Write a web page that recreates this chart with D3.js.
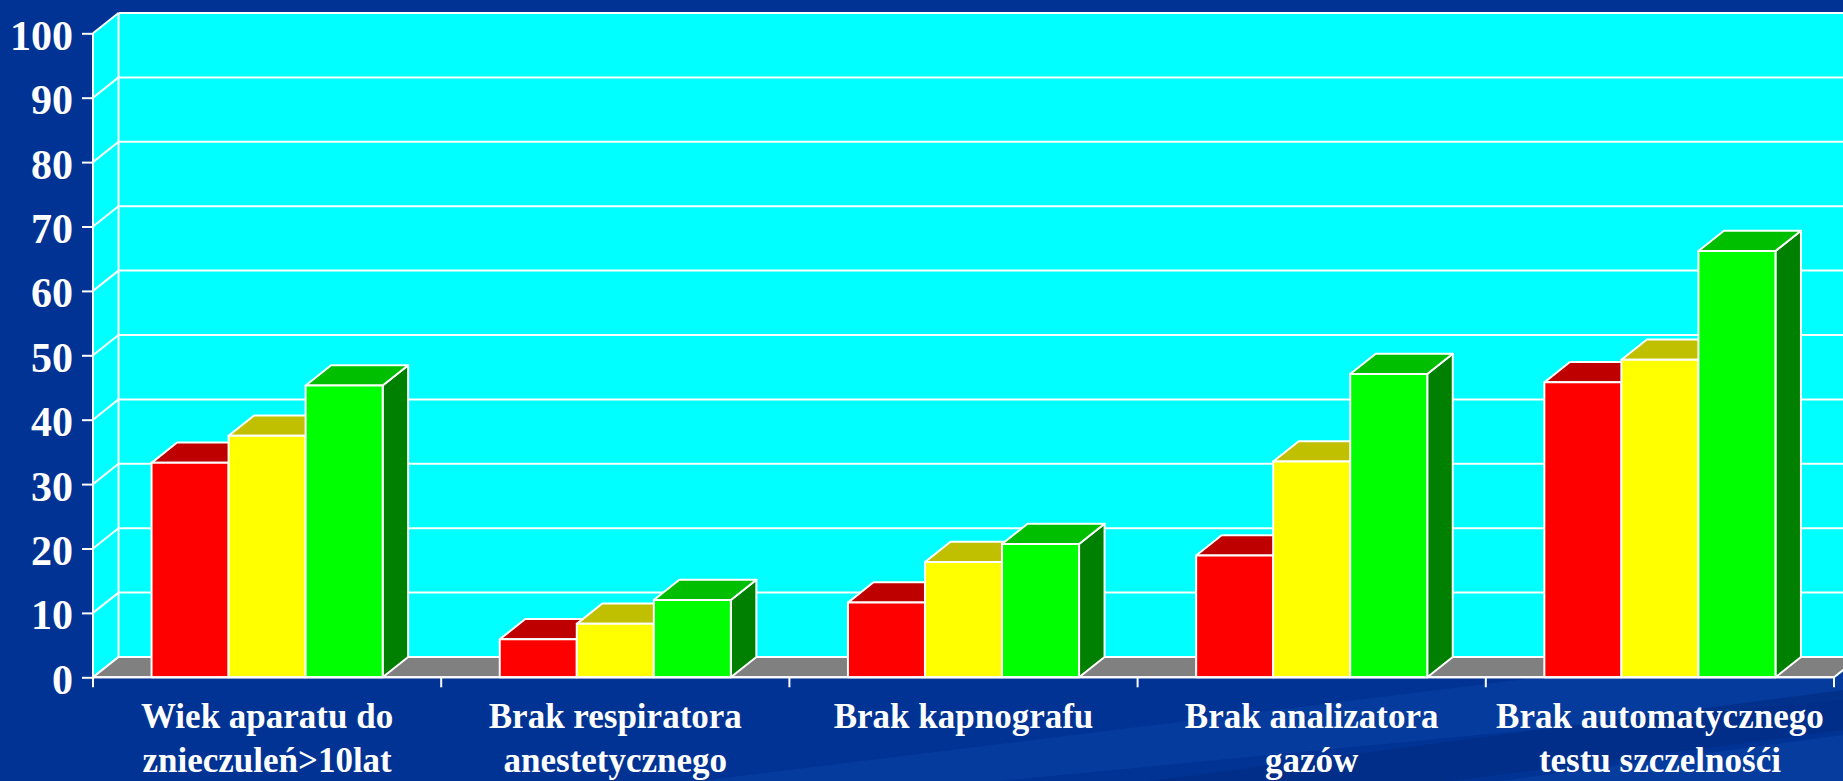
<!DOCTYPE html>
<html>
<head>
<meta charset="utf-8">
<script src="https://cdn.jsdelivr.net/npm/d3@7"></script>
<style>
  html, body { margin: 0; padding: 0; background: #003393; overflow: hidden; }
  svg { display: block; }
  text { font-family: "Liberation Serif", "DejaVu Serif", serif; font-weight: bold; fill: #ffffff; }
</style>
</head>
<body>
<svg id="chart" width="1843" height="781"></svg>
<script>
// Category labels (one array per text line)
const categories = [
  ["Wiek aparatu do", "znieczuleń>10lat"],
  ["Brak respiratora", "anestetycznego"],
  ["Brak kapnografu"],
  ["Brak analizatora", "gazów"],
  ["Brak automatycznego", "testu szczelnośći"]
];
const seriesNames = ["s1", "s2", "s3"];
// Values per series (%)
const redValues    = [33.3, 5.9, 11.6, 18.9, 45.8];
const yellowValues = [37.5, 8.3, 17.9, 33.5, 49.3];
const greenValues  = [45.3, 12.0, 20.7, 47.1, 66.2];
const yTicks = [0, 10, 20, 30, 40, 50, 60, 70, 80, 90, 100];

(function () {
const seriesValues = [redValues, yellowValues, greenValues];
const faceColors = [
  { front: "#ff0000", top: "#bf0000", side: "#800000" },
  { front: "#ffff00", top: "#c0c000", side: "#808000" },
  { front: "#00ff00", top: "#00bf00", side: "#008000" }
];

const W = 1843, H = 781;
const plotLeft = 93, plotRight = 1834, plotTop = 33.3, plotBottom = 677.3;
const dx = 25.5, dy = 20.3;   // depth offset of the 3D projection

const svg = d3.select("#chart");

// background with soft diagonal streaks
svg.append("rect").attr("width", W).attr("height", H).attr("fill", "#003393");
const streaks = [
  { pts: [[700, 781], [1843, 640], [1843, 700], [1000, 781]], c: "#0a44a8", o: 0.45 },
  { pts: [[1150, 781], [1843, 690], [1843, 730], [1450, 781]], c: "#002a80", o: 0.55 },
  { pts: [[1500, 781], [1843, 735], [1843, 781]], c: "#0b46ac", o: 0.45 }
];
svg.selectAll("polygon.streak").data(streaks).join("polygon")
  .attr("class", "streak")
  .attr("points", d => d.pts.map(p => p.join(",")).join(" "))
  .attr("fill", d => d.c).attr("opacity", d => d.o);

const catKeys = categories.map((c, i) => i);
const x0 = d3.scaleBand().domain(catKeys).range([plotLeft, plotRight]).padding(0);
const x1 = d3.scaleBand().domain(seriesNames).range([0, x0.bandwidth()])
  .paddingInner(0).paddingOuter(0.76);
const y = d3.scaleLinear().domain([0, 100]).range([plotBottom, plotTop]);

const wallRight = plotRight + dx + 40;
const pt = p => p.join(",");

// back wall
svg.append("rect")
  .attr("x", plotLeft + dx).attr("y", y(100) - dy)
  .attr("width", wallRight - plotLeft - dx).attr("height", y(0) - y(100))
  .attr("fill", "#00ffff");
// left side wall
svg.append("polygon")
  .attr("points", [[plotLeft, y(0)], [plotLeft, y(100)], [plotLeft + dx, y(100) - dy], [plotLeft + dx, y(0) - dy]].map(pt).join(" "))
  .attr("fill", "#00ffff");

// gridlines on the back wall and side wall
const grid = svg.append("g").attr("stroke", "#ffffff").attr("stroke-width", 2).attr("fill", "none");
yTicks.forEach(t => {
  grid.append("line").attr("x1", plotLeft + dx).attr("x2", wallRight)
    .attr("y1", y(t) - dy).attr("y2", y(t) - dy);
  grid.append("line").attr("x1", plotLeft).attr("x2", plotLeft + dx)
    .attr("y1", y(t)).attr("y2", y(t) - dy);
});
grid.append("line").attr("x1", plotLeft + dx).attr("x2", plotLeft + dx)
  .attr("y1", y(100) - dy).attr("y2", y(0) - dy);

// floor
svg.append("polygon")
  .attr("points", [[plotLeft, y(0)], [plotRight, y(0)], [plotRight + dx, y(0) - dy], [plotLeft + dx, y(0) - dy]].map(pt).join(" "))
  .attr("fill", "#808080").attr("stroke", "#ffffff").attr("stroke-width", 2)
  .attr("stroke-linejoin", "round");

// bars: side, top and front faces
const groups = svg.append("g").selectAll("g").data(catKeys).join("g")
  .attr("transform", d => `translate(${x0(d)},0)`);

groups.each(function (ci) {
  const g = d3.select(this);
  seriesNames.forEach((s, si) => {
    const v = seriesValues[si][ci];
    const xa = x1(s), xb = x1(s) + x1.bandwidth();
    const yt = y(v), yb = y(0);
    const col = faceColors[si];
    const bar = g.append("g").attr("stroke", "#ffffff").attr("stroke-width", 2)
      .attr("stroke-linejoin", "round");
    bar.append("polygon")
      .attr("points", [[xb, yb], [xb + dx, yb - dy], [xb + dx, yt - dy], [xb, yt]].map(pt).join(" "))
      .attr("fill", col.side);
    bar.append("polygon")
      .attr("points", [[xa, yt], [xa + dx, yt - dy], [xb + dx, yt - dy], [xb, yt]].map(pt).join(" "))
      .attr("fill", col.top);
    bar.append("rect")
      .attr("x", xa).attr("y", yt).attr("width", xb - xa).attr("height", yb - yt)
      .attr("fill", col.front);
  });
});

// y axis
const yAxis = svg.append("g").attr("transform", `translate(${plotLeft},0)`)
  .call(d3.axisLeft(y).tickValues(yTicks).tickSize(11).tickPadding(9).tickFormat(d3.format("d")));
yAxis.selectAll("path, line").attr("stroke", "#ffffff").attr("stroke-width", 2);
yAxis.select(".domain").attr("d", `M0,${y(100)}V${y(0)}`);
yAxis.selectAll("text").attr("fill", "#ffffff").attr("font-size", 42)
  .attr("font-family", "'Liberation Serif', serif").attr("font-weight", "bold")
  .attr("dy", "0.38em");

// x axis line with ticks at category boundaries
const xAxis = svg.append("g").attr("stroke", "#ffffff").attr("stroke-width", 2);
xAxis.append("line").attr("x1", plotLeft).attr("x2", plotRight).attr("y1", y(0)).attr("y2", y(0));
const bounds = catKeys.map(d => x0(d)).concat([x0(catKeys[catKeys.length - 1]) + x0.bandwidth()]);
xAxis.selectAll("line.tick").data(bounds).join("line").attr("class", "tick")
  .attr("x1", d => d).attr("x2", d => d).attr("y1", y(0)).attr("y2", y(0) + 10);

// category labels
const labels = svg.append("g").selectAll("text").data(catKeys).join("text")
  .attr("x", d => x0(d) + x0.bandwidth() / 2)
  .attr("y", 728)
  .attr("text-anchor", "middle")
  .attr("font-size", 35);
labels.selectAll("tspan").data(d => categories[d]).join("tspan")
  .attr("x", function () { return d3.select(this.parentNode).attr("x"); })
  .attr("dy", (d, i) => i === 0 ? 0 : 44)
  .text(d => d);
})();
</script>
</body>
</html>
